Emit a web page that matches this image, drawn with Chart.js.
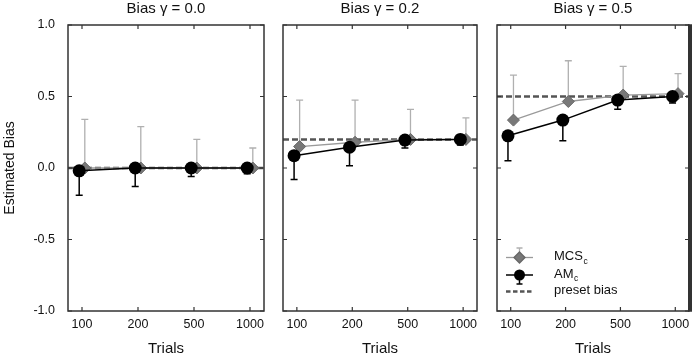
<!DOCTYPE html>
<html>
<head>
<meta charset="utf-8">
<script src="https://cdn.jsdelivr.net/npm/chart.js@4/dist/chart.umd.min.js"></script>
<style>
  html, body { margin: 0; padding: 0; background: #fff; }
  #wrap { position: relative; width: 696px; height: 357px; overflow: hidden; }
  canvas { position: absolute; top: 0; }
</style>
</head>
<body>
<div id="wrap">
  <canvas id="c0" style="left:0px" width="272" height="357"></canvas>
  <canvas id="c1" style="left:272px" width="212" height="357"></canvas>
  <canvas id="c2" style="left:484px" width="212" height="357"></canvas>
</div>
<script>
// ---- data ----
const trials = ['100', '200', '500', '1000'];
const panelTitles = ['Bias \u03B3 = 0.0', 'Bias \u03B3 = 0.2', 'Bias \u03B3 = 0.5'];
const presetBias = [0.0, 0.2, 0.5];
const yTicks = [-1.0, -0.5, 0.0, 0.5, 1.0];

// MCS_c (grey diamonds, upper error bars)
const mcsMean0 = [0.0, 0.0, 0.0, 0.0];
const mcsUpper0 = [0.34, 0.29, 0.20, 0.14];
const mcsMean2 = [0.15, 0.18, 0.20, 0.20];
const mcsUpper2 = [0.475, 0.475, 0.41, 0.35];
const mcsMean5 = [0.335, 0.465, 0.51, 0.52];
const mcsUpper5 = [0.65, 0.75, 0.71, 0.66];

// AM_c (black circles, lower error bars)
const amMean0 = [-0.02, 0.0, 0.0, 0.0];
const amLower0 = [-0.19, -0.13, -0.06, -0.04];
const amMean2 = [0.086, 0.145, 0.195, 0.20];
const amLower2 = [-0.08, 0.015, 0.14, 0.16];
const amMean5 = [0.225, 0.335, 0.475, 0.50];
const amLower5 = [0.05, 0.19, 0.41, 0.455];

const panels = [
  { mcs: mcsMean0, mcsUp: mcsUpper0, am: amMean0, amLo: amLower0 },
  { mcs: mcsMean2, mcsUp: mcsUpper2, am: amMean2, amLo: amLower2 },
  { mcs: mcsMean5, mcsUp: mcsUpper5, am: amMean5, amLo: amLower5 }
];

// ---- styling ----
const FONT = 'Liberation Sans, Arial, sans-serif';
const X_MIN = -0.25, X_MAX = 3.25;
const OFF = 0.05;
const MCS_LINE = '#9a9a9a', MCS_FILL = '#787878', MCS_ERR = '#b0b0b0';
const AM_COL = '#000000';
const DASH_COL = '#555555';
const BOX_COL = '#333333';

const layoutPad = [
  { left: 0, right: 8 },
  { left: 11, right: 5 },
  { left: 13, right: 3 }
];

function errorBarsPlugin(p) {
  return {
    id: 'errbars',
    beforeDatasetsDraw(chart) {
      const ctx = chart.ctx, xs = chart.scales.x, ys = chart.scales.y;
      ctx.save();
      ctx.strokeStyle = MCS_ERR; ctx.lineWidth = 1.3;
      p.mcs.forEach((v, i) => {
        const x = xs.getPixelForValue(i + OFF);
        const y0 = ys.getPixelForValue(v), y1 = ys.getPixelForValue(p.mcsUp[i]);
        ctx.beginPath(); ctx.moveTo(x, y0); ctx.lineTo(x, y1);
        ctx.moveTo(x - 3.5, y1); ctx.lineTo(x + 3.5, y1); ctx.stroke();
      });
      ctx.strokeStyle = AM_COL; ctx.lineWidth = 1.5;
      p.am.forEach((v, i) => {
        const x = xs.getPixelForValue(i - OFF);
        const y0 = ys.getPixelForValue(v), y1 = ys.getPixelForValue(p.amLo[i]);
        ctx.beginPath(); ctx.moveTo(x, y0); ctx.lineTo(x, y1);
        ctx.moveTo(x - 3.5, y1); ctx.lineTo(x + 3.5, y1); ctx.stroke();
      });
      ctx.restore();
    }
  };
}

function frameAndTicks(idx) {
  return {
    id: 'frame',
    afterDraw(chart) {
      const ctx = chart.ctx, a = chart.chartArea, xs = chart.scales.x, ys = chart.scales.y;
      ctx.save();
      ctx.fillStyle = '#111'; ctx.font = '15px ' + FONT;
      ctx.textAlign = 'center'; ctx.textBaseline = 'middle';
      ctx.fillText(panelTitles[idx], (a.left + a.right) / 2, 9);
      ctx.strokeStyle = BOX_COL; ctx.lineWidth = 1.5;
      ctx.strokeRect(a.left, a.top, a.right - a.left, a.bottom - a.top);
      if (idx === 2) {
        ctx.lineWidth = 4;
        ctx.beginPath(); ctx.moveTo(a.right + 1, a.top - 0.75); ctx.lineTo(a.right + 1, a.bottom + 0.75); ctx.stroke();
      }
      ctx.lineWidth = 1.2;
      const L = 4;
      trials.forEach((t, i) => {
        const x = xs.getPixelForValue(i);
        ctx.beginPath();
        ctx.moveTo(x, a.top); ctx.lineTo(x, a.top + L);
        ctx.moveTo(x, a.bottom); ctx.lineTo(x, a.bottom - L);
        ctx.stroke();
      });
      yTicks.forEach(v => {
        const y = ys.getPixelForValue(v);
        ctx.beginPath();
        ctx.moveTo(a.left, y); ctx.lineTo(a.left + L, y);
        ctx.moveTo(a.right, y); ctx.lineTo(a.right - L, y);
        ctx.stroke();
      });
      ctx.restore();
    }
  };
}

const legendPlugin = {
  id: 'customLegend',
  afterDraw(chart) {
    const ctx = chart.ctx, a = chart.chartArea;
    const x0 = a.left + 9, x1 = a.left + 36, xc = (x0 + x1) / 2, tx = a.left + 57;
    const rows = [a.top + 232.5, a.top + 250, a.top + 266.5];
    ctx.save();
    ctx.strokeStyle = MCS_LINE; ctx.lineWidth = 1.3;
    ctx.beginPath(); ctx.moveTo(x0, rows[0]); ctx.lineTo(x1, rows[0]); ctx.stroke();
    ctx.strokeStyle = MCS_ERR;
    ctx.beginPath(); ctx.moveTo(xc, rows[0]); ctx.lineTo(xc, rows[0] - 9.5);
    ctx.moveTo(xc - 3, rows[0] - 9.5); ctx.lineTo(xc + 3, rows[0] - 9.5); ctx.stroke();
    ctx.fillStyle = MCS_FILL; ctx.strokeStyle = '#666';
    ctx.beginPath(); ctx.moveTo(xc, rows[0] - 5.5); ctx.lineTo(xc + 5.5, rows[0]); ctx.lineTo(xc, rows[0] + 5.5); ctx.lineTo(xc - 5.5, rows[0]); ctx.closePath(); ctx.fill(); ctx.stroke();
    ctx.strokeStyle = AM_COL; ctx.lineWidth = 1.5;
    ctx.beginPath(); ctx.moveTo(x0, rows[1]); ctx.lineTo(x1, rows[1]); ctx.stroke();
    ctx.beginPath(); ctx.moveTo(xc, rows[1]); ctx.lineTo(xc, rows[1] + 9);
    ctx.moveTo(xc - 3, rows[1] + 9); ctx.lineTo(xc + 3, rows[1] + 9); ctx.stroke();
    ctx.fillStyle = AM_COL;
    ctx.beginPath(); ctx.arc(xc, rows[1], 5.5, 0, Math.PI * 2); ctx.fill();
    ctx.strokeStyle = DASH_COL; ctx.lineWidth = 2.5; ctx.setLineDash([4.5, 2.5]);
    ctx.beginPath(); ctx.moveTo(x0, rows[2]); ctx.lineTo(x1, rows[2]); ctx.stroke();
    ctx.setLineDash([]);
    ctx.fillStyle = '#111'; ctx.textBaseline = 'middle'; ctx.textAlign = 'left';
    const main = '13px ' + FONT, sub = '8.5px ' + FONT;
    [['MCS', 'c'], ['AM', 'c'], ['preset bias', '']].forEach((t, i) => {
      ctx.font = main;
      ctx.fillText(t[0], tx, rows[i] - 1);
      if (t[1]) {
        const w = ctx.measureText(t[0]).width;
        ctx.font = sub;
        ctx.fillText(t[1], tx + w + 0.5, rows[i] + 4);
      }
    });
    ctx.restore();
  }
};

panels.forEach((p, idx) => {
  const toPts = (arr, off) => arr.map((v, i) => ({ x: i + off, y: v }));
  const plugins = [errorBarsPlugin(p), frameAndTicks(idx)];
  if (idx === 2) plugins.push(legendPlugin);
  new Chart(document.getElementById('c' + idx), {
    type: 'line',
    data: {
      datasets: [
        {
          label: 'preset bias',
          data: [{ x: X_MIN, y: presetBias[idx] }, { x: X_MAX, y: presetBias[idx] }],
          borderColor: DASH_COL, borderWidth: 2.5, borderDash: [6, 3],
          pointRadius: 0, order: 3
        },
        {
          label: 'MCS_c',
          data: toPts(p.mcs, OFF),
          borderColor: MCS_LINE, borderWidth: 1.3,
          pointStyle: 'rectRot', pointRadius: 6,
          pointBackgroundColor: MCS_FILL, pointBorderColor: '#666', pointBorderWidth: 1,
          order: 2
        },
        {
          label: 'AM_c',
          data: toPts(p.am, -OFF),
          borderColor: AM_COL, borderWidth: 1.5,
          pointStyle: 'circle', pointRadius: 6.5,
          pointBackgroundColor: AM_COL, pointBorderColor: AM_COL, pointBorderWidth: 0,
          order: 1
        }
      ]
    },
    options: {
      responsive: false,
      animation: false,
      events: [],
      layout: { padding: { left: layoutPad[idx].left, right: layoutPad[idx].right, top: 25, bottom: 0 } },
      plugins: {
        legend: { display: false },
        tooltip: { enabled: false },
        title: { display: false }
      },
      scales: {
        x: {
          type: 'linear', min: X_MIN, max: X_MAX,
          afterBuildTicks: ax => { ax.ticks = trials.map((t, i) => ({ value: i })); },
          afterFit: ax => { ax.height = 46; },
          grid: { display: false, drawTicks: false },
          border: { display: false },
          ticks: {
            padding: 6, color: '#111', maxRotation: 0, autoSkip: false,
            font: { family: FONT, size: 12.5 },
            callback: (v) => trials[Math.round(v)]
          },
          title: {
            display: true, text: 'Trials', color: '#111',
            font: { family: FONT, size: 15, lineHeight: '16px' },
            padding: { top: 0, bottom: 0 }
          }
        },
        y: {
          min: -1, max: 1,
          display: idx === 0,
          afterBuildTicks: ax => { ax.ticks = yTicks.map(v => ({ value: v })); },
          afterFit: ax => { if (idx === 0) ax.width = 68; },
          grid: { display: false, drawTicks: false },
          border: { display: false },
          ticks: {
            padding: 13, color: '#111',
            font: { family: FONT, size: 12.5 },
            callback: v => v.toFixed(1)
          },
          title: {
            display: idx === 0, text: 'Estimated Bias', color: '#111',
            font: { family: FONT, size: 14, lineHeight: '16px' },
            padding: { top: 2, bottom: 0 }
          }
        }
      }
    },
    plugins: plugins
  });
});
</script>
</body>
</html>
